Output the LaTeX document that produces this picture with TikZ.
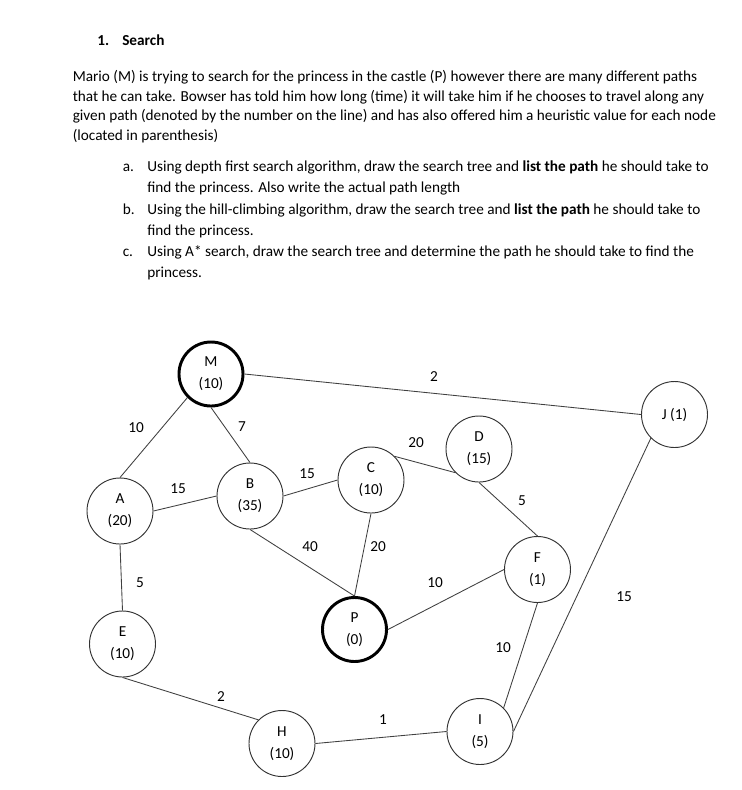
\documentclass[tikz,border=0pt]{standalone}
\usepackage{fontspec}
\setmainfont{Carlito}
\begin{document}
\begin{tikzpicture}[x=0.75pt,y=-0.75pt,
  every node/.style={font=\fontsize{11.45pt}{16.5pt}\selectfont},
  txt/.style={anchor=base west, inner sep=0pt},
  vert/.style={circle, draw=black!80, line width=0.7pt, minimum size=49.5pt, inner sep=0pt, align=center},
  goal/.style={vert, draw=black, line width=2.2pt, minimum size=48pt},
  edge/.style={draw=black!75, line width=0.65pt},
  lbl/.style={inner sep=0pt}]
\useasboundingbox (0,0) rectangle (742,790);
% text
\node[txt] (h1) at (97,45.7) {\textbf{1.}};
\node[txt] (h2) at (122,45.7) {\textbf{Search}};
\node[txt] (p1) at (72.5,81.3) {Mario (M) is trying to search for the princess in the castle (P) however there are many different paths};
\node[txt] (p2) at (72.5,101.1) {that he can take. Bowser has told him how long (time) it will take him if he chooses to travel along any};
\node[txt] (p3) at (72.5,120.9) {given path (denoted by the number on the line) and has also offered him a heuristic value for each node};
\node[txt] (p4) at (72.5,140.7) {(located in parenthesis)};
\node[txt] (la) at (122.5,171.7) {a.};
\node[txt] (a1) at (147,171.7) {Using depth first search algorithm, draw the search tree and \textbf{list the path} he should take to};
\node[txt] (a2) at (147,192.3) {find the princess. Also write the actual path length};
\node[txt] (lb) at (122.5,214.7) {b.};
\node[txt] (b1) at (147,214.7) {Using the hill-climbing algorithm, draw the search tree and \textbf{list the path} he should take to};
\node[txt] (b2) at (147,235.3) {find the princess.};
\node[txt] (lc) at (122.5,256.7) {c.};
\node[txt] (c1) at (147,256.7) {Using A* search, draw the search tree and determine the path he should take to find the};
\node[txt] (c2) at (147,277.3) {princess.};
% vertices
\node[goal] (M) at (211,374) {M\\(10)};
\node[vert] (A) at (120,511) {A\\(20)};
\node[vert] (B) at (250,496) {B\\(35)};
\node[vert] (C) at (371,480) {C\\(10)};
\node[vert] (D) at (479,449) {D\\(15)};
\node[vert] (J) at (674.5,414.5) {J (1)};
\node[vert] (F) at (537.5,569.5) {F\\(1)};
\node[goal] (P) at (354.5,629.5) {P\\(0)};
\node[vert] (E) at (122.5,644) {E\\(10)};
\node[vert] (H) at (282,743.5) {H\\(10)};
\node[vert] (I) at (480,731.5) {I\\(5)};
% edges
\draw[edge] (M.south west) -- (A.north);
\draw[edge] (M.south) -- (B.north);
\draw[edge] (M.east) -- (J.west);
\draw[edge] (A.east) -- (B.west);
\draw[edge] (B.east) -- (C.west);
\draw[edge] (C.north east) -- (D.south west);
\draw[edge] (D.south) -- (F.north);
\draw[edge] (B.south) -- (P.north);
\draw[edge] (C.south) -- (P.north);
\draw[edge] (A.south) -- (E.north);
\draw[edge] (P.east) -- (F.west);
\draw[edge] (F.south) -- (I.north east);
\draw[edge] (J.south west) -- (I.east);
\draw[edge] (E.south) -- (H.north west);
\draw[edge] (H.east) -- (I.west);
% edge labels
\node[lbl] (lMA) at (136,428) {10};
\node[lbl] (lMB) at (242,427) {7};
\node[lbl] (lMJ) at (434,377) {2};
\node[lbl] (lAB) at (178,489) {15};
\node[lbl] (lBC) at (307,474) {15};
\node[lbl] (lCD) at (416,443) {20};
\node[lbl] (lDF) at (522,501) {5};
\node[lbl] (lBP) at (310,547) {40};
\node[lbl] (lCP) at (378,547) {20};
\node[lbl] (lAE) at (140,583) {5};
\node[lbl] (lPF) at (435,583) {10};
\node[lbl] (lFI) at (503,648) {10};
\node[lbl] (lJI) at (624,597) {15};
\node[lbl] (lEH) at (221,697) {2};
\node[lbl] (lHI) at (383,720) {1};
\end{tikzpicture}
\end{document}
